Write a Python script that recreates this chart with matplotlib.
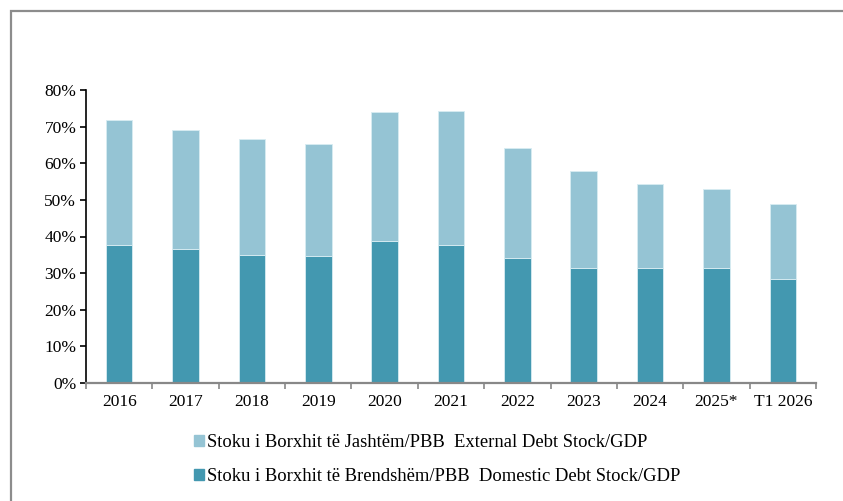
import matplotlib
matplotlib.use('Agg')
import matplotlib.pyplot as plt
import numpy as np
from matplotlib.patches import Rectangle, Patch

matplotlib.rcParams.update({'font.family': 'Liberation Serif', 'font.size': 12.5})

years = ['2016', '2017', '2018', '2019', '2020', '2021', '2022', '2023', '2024', '2025*', 'T1 2026']
domestic = [37.7, 36.6, 35.0, 34.8, 38.8, 37.7, 34.2, 31.4, 31.4, 31.4, 28.5]
total = [71.9, 69.0, 66.7, 65.2, 74.0, 74.2, 64.3, 57.8, 54.3, 52.9, 48.9]
external = [t - d for t, d in zip(total, domestic)]

lbl_ext = 'Stoku i Borxhit të Jashtëm/PBB  External Debt Stock/GDP'
lbl_dom = 'Stoku i Borxhit të Brendshëm/PBB  Domestic Debt Stock/GDP'
c_dom = '#4398b0'
c_ext = '#95c4d4'

fig = plt.figure(figsize=(8.43, 5.01), dpi=100)

# outer frame (cut at right and bottom)
fig.patches.append(Rectangle((11/843, -0.1), 1.2, 1 - 11/501 + 0.1, transform=fig.transFigure,
                             fill=False, edgecolor='#8c8c8c', linewidth=1.6))

ax = fig.add_axes([86/843, 1 - 383/501, 730/843, 293/501])
x = np.arange(len(years))
ax.bar(x, domestic, width=0.4, color=c_dom, edgecolor='#d8ecf2', linewidth=0.6, label=lbl_dom)
ax.bar(x, external, width=0.4, bottom=domestic, color=c_ext, edgecolor='#d8ecf2', linewidth=0.6, label=lbl_ext)

ax.set_xlim(-0.5, len(years) - 0.5)
ax.set_ylim(0, 80)
ax.set_yticks(np.arange(0, 81, 10))
ax.set_yticklabels([f'{v}%' for v in range(0, 81, 10)])
ax.set_xticks(x)
ax.set_xticklabels(years)
ax.tick_params(axis='x', length=0, pad=8)
ax.set_xticks(np.arange(-0.5, len(years), 1), minor=True)
ax.tick_params(axis='x', which='minor', length=4, color='#888888', width=1.2)
ax.tick_params(axis='y', length=4, width=1.2, color='black', pad=3)

for s in ['top', 'right']:
    ax.spines[s].set_visible(False)
ax.spines['left'].set_linewidth(1.2)
ax.spines['bottom'].set_color('#888888')
ax.spines['bottom'].set_linewidth(1.6)

handles = [Patch(color=c_ext), Patch(color=c_dom)]
fig.legend(handles, [lbl_ext, lbl_dom], loc='upper left', bbox_to_anchor=(194/843, 1 - 434/501),
           frameon=False, handlelength=0.55, handleheight=0.55, handletextpad=0.15,
           labelspacing=0.9, fontsize=13.4, borderpad=0, borderaxespad=0)

fig.savefig('out.png', dpi=100)
